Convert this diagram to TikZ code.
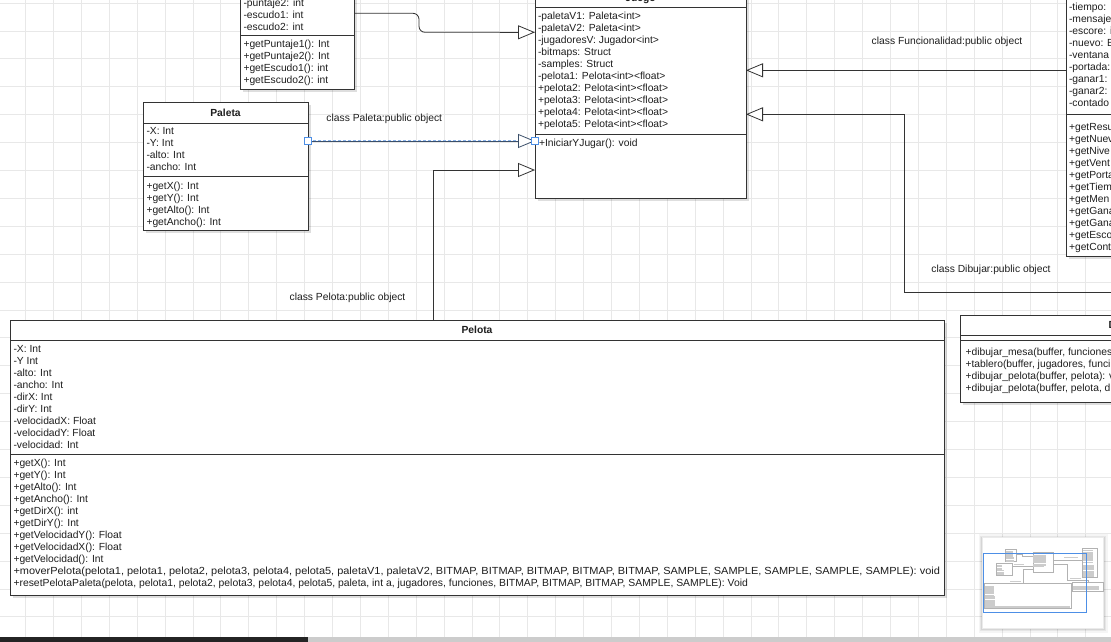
\documentclass[tikz,border=0pt]{standalone}
\usepackage{fontspec}
\setmainfont{Liberation Sans}
\usetikzlibrary{arrows.meta,shadows,calc}
\definecolor{ink}{HTML}{1E1E1E}
\definecolor{edge}{HTML}{333333}
\definecolor{gridc}{HTML}{E8E8E8}
\definecolor{sel}{HTML}{4D8FE6}
\definecolor{selsoft}{HTML}{8DB6EE}

% one text row per list item, 12pt apart
\newcommand\rowlist[4]{%
  \foreach \t [count=\i] in {#4} {\node[txt, anchor=base west] (#1\i) at (#2, {#3+12*(\i-1)}) {\t};}}

\begin{document}
\begin{tikzpicture}[x=1pt,y=-1pt,
  txt/.style={inner sep=0pt, outer sep=0pt, text=ink, font=\fontsize{10.3}{12}\selectfont},
  ttl/.style={txt, font=\fontsize{10.3}{12}\selectfont\bfseries},
  umlbox/.style={draw=edge, fill=white, line width=0.8pt, inner sep=0pt, outer sep=0pt,
    anchor=north west,
    drop shadow={shadow xshift=2.5pt, shadow yshift=-2.5pt, opacity=0.13, fill=black}},
  divider/.style={draw=edge, line width=0.8pt},
  conn/.style={draw=edge, line width=0.8pt},
  inh/.style={conn, -{Triangle[length=17pt, width=14pt, fill=white]}},
  handle/.style={draw=sel, fill=white, line width=0.8pt, minimum size=7.5pt, inner sep=0pt, outer sep=0pt},
  gridline/.style={draw=gridc, line width=0.7pt},
  minibox/.style={draw=black!30, fill=white, line width=0.3pt},
  minitext/.style={draw=black!20, line width=0.25pt},
]
\useasboundingbox (0,0) rectangle (1111,642);
\clip (0,0) rectangle (1111,642);
\fill[white] (0,0) rectangle (1111,642);

% canvas grid
\foreach \k in {0,...,39} \draw[gridline] ({25.5+27.9*\k},0) -- ++(0,642);
\foreach \k in {0,...,22} \draw[gridline] (0,{3+27.9*\k}) -- ++(1111,0);

% ---------------- class boxes ----------------
\node[umlbox, minimum width=114pt, minimum height=135pt] (jugador) at (240,-46) {};
\node[umlbox, minimum width=211pt, minimum height=212pt] (juego) at (535,-14) {};
\node[umlbox, minimum width=165pt, minimum height=128pt] (paleta) at (143,102) {};
\node[umlbox, minimum width=934pt, minimum height=275pt] (pelota) at (10,320) {};
\node[umlbox, minimum width=156pt, minimum height=310pt] (func) at (1066,-54) {};
\node[umlbox, minimum width=324pt, minimum height=86.5pt] (dib) at (960,315.5) {};

% compartment dividers
\draw[divider] (jugador.west |- 0,35) -- (jugador.east |- 0,35);
\draw[divider] (juego.west |- 0,7.3) -- (juego.east |- 0,7.3);
\draw[divider] (juego.west |- 0,134) -- (juego.east |- 0,134);
\draw[divider] (paleta.west |- 0,123) -- (paleta.east |- 0,123);
\draw[divider] (paleta.west |- 0,176) -- (paleta.east |- 0,176);
\draw[divider] (pelota.west |- 0,340.7) -- (pelota.east |- 0,340.7);
\draw[divider] (pelota.west |- 0,454.3) -- (pelota.east |- 0,454.3);
\draw[divider] (func.west |- 0,114.3) -- (func.east |- 0,114.3);
\draw[divider] (dib.west |- 0,335) -- (dib.east |- 0,335);
\draw[divider] (dib.west |- 0,340) -- (dib.east |- 0,340);

% class names
\node[ttl, anchor=base] (juego-name) at (640.5,2) {Juego};
\node[ttl, anchor=base] (paleta-name) at (225.5,116.4) {Paleta};
\node[ttl, anchor=base] (pelota-name) at (477,333.7) {Pelota};
\node[ttl, anchor=base west] (dib-name) at (1108.6,328.7) {Dibujar};

% Jugador
\rowlist{jua}{243.5}{6.5}{-puntaje2: int, -escudo1: int, -escudo2: int}
\rowlist{jum}{243.5}{47.8}{+getPuntaje1(): Int, +getPuntaje2(): Int, +getEscudo1(): int, +getEscudo2(): int}

% Juego
\rowlist{jga}{538}{19.4}{-paletaV1: Paleta<int>, -paletaV2: Paleta<int>, -jugadoresV: Jugador<int>,
  -bitmaps: Struct, -samples: Struct, -pelota1: Pelota<int><float>, +pelota2: Pelota<int><float>,
  +pelota3: Pelota<int><float>, +pelota4: Pelota<int><float>, +pelota5: Pelota<int><float>}
\rowlist{jgm}{539}{146.3}{+IniciarYJugar(): void}

% Paleta
\rowlist{paa}{146.5}{134.3}{-X: Int, -Y: Int, -alto: Int, -ancho: Int}
\rowlist{pam}{146.5}{189.3}{+getX(): Int, +getY(): Int, +getAlto(): Int, +getAncho(): Int}

% Pelota
\rowlist{pea}{13.5}{352.3}{-X: Int, -Y Int, -alto: Int, -ancho: Int, -dirX: Int, -dirY: Int,
  -velocidadX: Float, -velocidadY: Float, -velocidad: Int}
\rowlist{pem}{13.5}{466.8}{+getX(): Int, +getY(): Int, +getAlto(): Int, +getAncho(): Int,
  +getDirX(): int, +getDirY(): Int, +getVelocidadY(): Float, +getVelocidadX(): Float,
  +getVelocidad(): Int}
% the two long signatures are set a little wider
\node[txt, anchor=base west, xscale=1.064, transform shape] (pem10) at (13.5,574.8)
  {+moverPelota(pelota1, pelota1, pelota2, pelota3, pelota4, pelota5, paletaV1, paletaV2, BITMAP, BITMAP, BITMAP, BITMAP, BITMAP, SAMPLE, SAMPLE, SAMPLE, SAMPLE, SAMPLE): void};
\node[txt, anchor=base west, xscale=1.008, transform shape] (pem11) at (13.5,586.8)
  {+resetPelotaPaleta(pelota, pelota1, pelota2, pelota3, pelota4, pelota5, paleta, int a, jugadores, funciones, BITMAP, BITMAP, BITMAP, SAMPLE, SAMPLE): Void};

% Funcionalidad
\rowlist{fua}{1069}{10.3}{-tiempo:, -mensaje, -escore: i, -nuevo: B, -ventana, -portada:, -ganar1:, -ganar2:, -contado}
\rowlist{fum}{1069}{130.3}{+getResu, +getNuev, +getNive, +getVent, +getPorta, +getTiem, +getMen, +getGana, +getGana, +getEsco, +getCont}

% Dibujar
\rowlist{dim}{965.5}{355.3}{{+dibujar\_mesa(buffer, funciones}, {+tablero(buffer, jugadores, funci},
  {+dibujar\_pelota(buffer, pelota): v}, {+dibujar\_pelota(buffer, pelota, d}}

% ---------------- inheritance connectors ----------------
\draw[conn, rounded corners=6pt] (jugador.east |- 0,13.3) -| (419,32.3) -- (500,32.3);
\draw[inh] (500,32.3) -- (juego.west |- 0,32.3);

% selected connector: soft dashed highlight under the edge line
\draw[selsoft, line width=1.6pt, dash pattern=on 3pt off 2pt] (paleta.east |- 0,141) -- (juego.west |- 0,141);
\draw[inh, draw=edge!70!sel] (paleta.east |- 0,141) -- (juego.west |- 0,141);

\draw[inh] (pelota.north -| 433,0) |- (juego.west |- 0,170);

\draw[inh] (func.west |- 0,70.3) -- (juego.east |- 0,70.3);

\draw[inh] (dib.north) |- (904,292.5) |- (juego.east |- 0,114.3);

% connector labels
\node[txt, anchor=base] (lab-paleta) at (384.3,121.4) {class Paleta:public object};
\node[txt, anchor=base] (lab-func) at (947,45) {class Funcionalidad:public object};
\node[txt, anchor=base] (lab-pelota) at (347.5,300.7) {class Pelota:public object};
\node[txt, anchor=base] (lab-dib) at (991,272.2) {class Dibujar:public object};

% selection handles
\node[handle] (h-start) at (paleta.east |- 0,141) {};
\node[handle] (h-end) at (juego.west |- 0,141) {};

% ---------------- outline panel ----------------
\fill[black, opacity=0.04] (978.5,534) rectangle (1107.5,633);
\fill[black, opacity=0.06] (980,535.5) rectangle (1106,631);
\fill[black, opacity=0.07] (981.3,536.7) rectangle (1104.5,629.5);
\node[draw=black!8, fill=white, line width=0.5pt, minimum width=121pt, minimum height=91pt,
  anchor=north west, inner sep=0pt, outer sep=0pt] (outline) at (982.3,537.7) {};
\begin{scope}[shift={(983.3,553.3)}, scale=0.093]
  \foreach \a/\b/\c/\d in {240/-46/354/89, 535/-14/746/198, 143/102/308/230,
      10/320/944/595, 1066/-54/1222/256, 960/315/1284/402}
    \draw[minibox] (\a,\b) rectangle (\c,\d);
  \foreach \x/\y/\n/\l in {244/-20/5/80, 244/44/4/85, 539/16/10/130, 539/143/1/110,
      147/130/4/50, 147/186/4/75, 14/349/9/100, 14/463/9/115, 14/571/2/920,
      1069/-30/11/110, 1069/127/11/120, 965/352/4/280,
      326/118/1/116, 871/41/1/152, 289/297/1/117, 931/268/1/120}
    \foreach \k in {1,...,\n}
      \draw[minitext] (\x,{\y+12*(\k-1)}) -- ++(\l,0);
  \draw[black!30, line width=0.3pt] (354,13) -| (419,32) -- (535,32);
  \draw[black!30, line width=0.3pt] (308,141) -- (535,141);
  \draw[black!30, line width=0.3pt] (433,320) |- (535,170);
  \draw[black!30, line width=0.3pt] (1066,70) -- (746,70);
  \draw[black!30, line width=0.3pt] (1122,315) |- (904,292) |- (746,114);
\end{scope}
\draw[sel, line width=1.2pt] (983.3,553.3) rectangle (1086.7,612.3);

% scroll bar
\fill[black!20] (0,637) rectangle (1111,642);
\fill[black!86] (0,637) rectangle (308,642);
\end{tikzpicture}
\end{document}
